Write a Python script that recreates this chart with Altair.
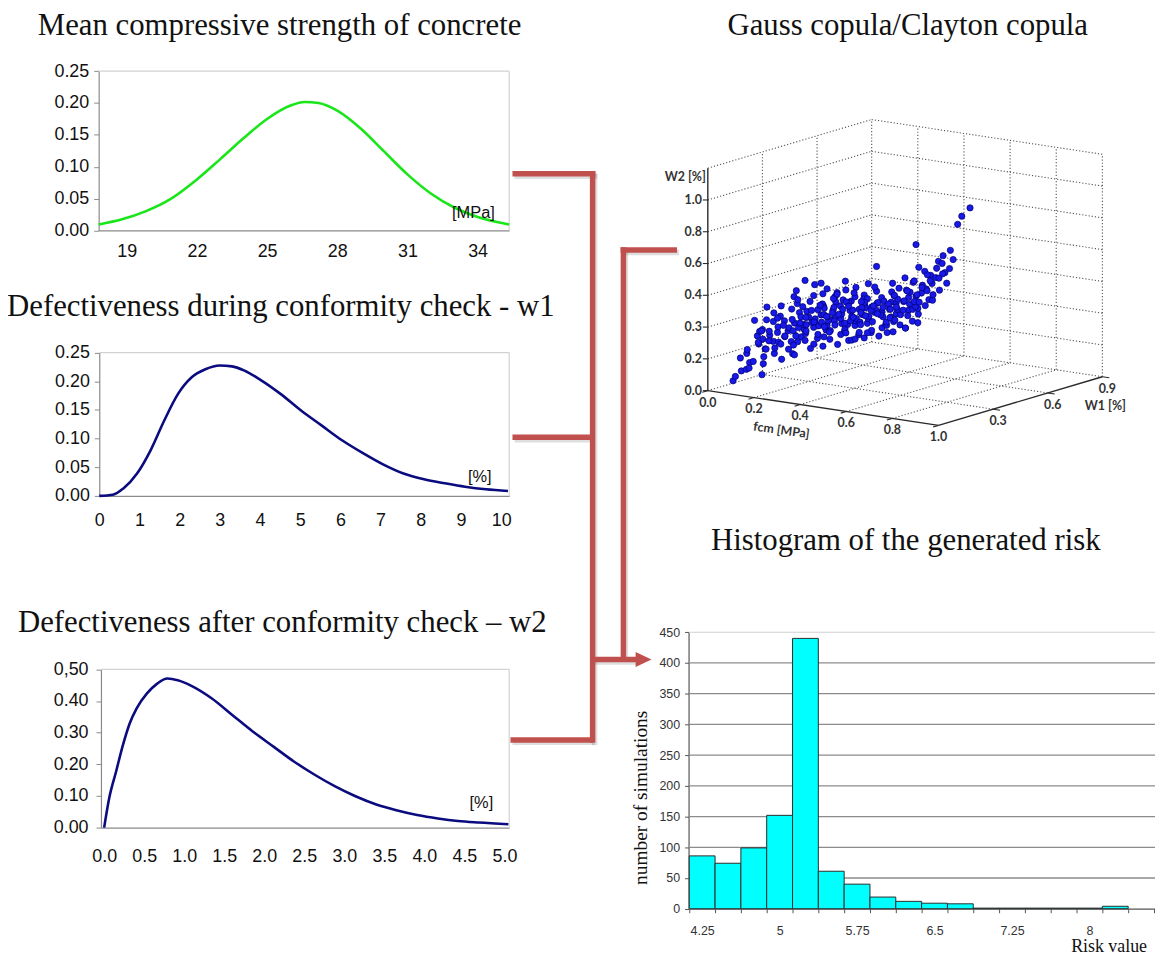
import altair as alt
import pandas as pd

# ---------------------------------------------------------------- data
TITLE_FCM = "Mean compressive strength of concrete"
TITLE_W1 = "Defectiveness during conformity check - w1"
TITLE_W2 = "Defectiveness after conformity check \u2013 w2"
TITLE_COPULA = "Gauss copula/Clayton copula"
TITLE_HIST = "Histogram of the generated risk"

FCM_X = [17.8, 18.8, 19.8, 20.9, 22.0, 23.0, 24.0, 25.0, 26.0, 26.6, 27.2, 28.0, 29.0, 30.0,
         31.0, 32.0, 33.0, 34.0, 35.35]
FCM_Y = [0.0094, 0.0175, 0.030, 0.050, 0.080, 0.112, 0.145, 0.175, 0.196, 0.2017, 0.200, 0.188,
         0.160, 0.124, 0.088, 0.058, 0.036, 0.021, 0.0094]
FCM_TICKS = [19, 22, 25, 28, 31, 34]

W1_X = [0, 0.34, 0.6, 0.94, 1.28, 1.62, 1.96, 2.3, 2.64, 3.0, 3.3, 3.6, 4.0, 4.51, 5.02, 5.53,
        6.04, 6.55, 7.06, 7.57, 8.08, 8.6, 9.1, 9.62, 10.17]
W1_Y = [0, 0.002, 0.013, 0.039, 0.080, 0.132, 0.178, 0.207, 0.221, 0.2275, 0.226, 0.219, 0.203,
        0.178, 0.149, 0.123, 0.097, 0.075, 0.055, 0.039, 0.029, 0.022, 0.016, 0.0115, 0.0087]
W1_TICKS = [0, 1, 2, 3, 4, 5, 6, 7, 8, 9, 10]

W2_X = [0.0, 0.064, 0.15, 0.235, 0.32, 0.406, 0.535, 0.663, 0.79, 0.919, 1.09, 1.346, 1.6,
        1.86, 2.115, 2.37, 2.63, 2.88, 3.14, 3.4, 3.65, 3.91, 4.17, 4.42, 4.68, 5.05]
W2_Y = [0, 0.094, 0.178, 0.2615, 0.33, 0.377, 0.424, 0.455, 0.471, 0.4655, 0.448, 0.408, 0.356,
        0.303, 0.256, 0.209, 0.167, 0.131, 0.099, 0.073, 0.055, 0.040, 0.029, 0.021, 0.016, 0.0105]
W2_XTICKS = [0, 0.5, 1, 1.5, 2, 2.5, 3, 3.5, 4, 4.5, 5]
W2_XLABELS = ["0.0", "0.5", "1.0", "1.5", "2.0", "2.5", "3.0", "3.5", "4.0", "4.5", "5.0"]
W2_YTICKS = [0, 0.1, 0.2, 0.3, 0.4, 0.5]
W2_YLABELS = ["0.00", "0.10", "0.20", "0.30", "0.40", "0,50"]

RISK_CENTERS = [4.25, 4.5, 4.75, 5.0, 5.25, 5.5, 5.75, 6.0, 6.25, 6.5, 6.75, 7.0, 7.25, 7.5,
                7.75, 8.0, 8.25]
RISK_COUNTS = [86, 74, 99, 152, 440, 61, 40, 19, 12, 9, 8, 1, 1, 1, 1, 1, 4]
RISK_LABEL_AT = [4.25, 5.0, 5.75, 6.5, 7.25, 8.0]
RISK_LABELS = ["4.25", "5", "5.75", "6.5", "7.25", "8"]

# copula sample: (fcm, W1, W2)
COPULA_POINTS = [
    (0.07, 0.05, 0.06), (0.09, 0.07, 0.12), (0.08, 0.05, 0.09), (0.11, 0.09, 0.17), (0.09, 0.10, 0.22),
    (0.12, 0.06, 0.14), (0.10, 0.09, 0.25), (0.07, 0.09, 0.19),
    (0.10, 0.10, 0.13), (0.14, 0.13, 0.20), (0.11, 0.14, 0.27), (0.12, 0.12, 0.33), (0.15, 0.11, 0.38),
    (0.13, 0.15, 0.24), (0.10, 0.13, 0.42), (0.14, 0.10, 0.30), (0.11, 0.11, 0.17), (0.13, 0.12, 0.36),
    (0.13, 0.14, 0.15), (0.17, 0.15, 0.22), (0.14, 0.18, 0.28), (0.15, 0.15, 0.33), (0.17, 0.17, 0.38),
    (0.16, 0.12, 0.44), (0.13, 0.16, 0.50), (0.18, 0.14, 0.26), (0.15, 0.17, 0.41), (0.17, 0.12, 0.31),
    (0.13, 0.13, 0.36), (0.16, 0.16, 0.47),
    (0.17, 0.19, 0.17), (0.20, 0.19, 0.24), (0.16, 0.22, 0.30), (0.19, 0.20, 0.35), (0.21, 0.21, 0.40),
    (0.18, 0.17, 0.45), (0.16, 0.20, 0.50), (0.20, 0.22, 0.56), (0.18, 0.23, 0.27), (0.21, 0.18, 0.38),
    (0.16, 0.18, 0.43), (0.20, 0.17, 0.33), (0.19, 0.22, 0.48), (0.21, 0.20, 0.21),
    (0.21, 0.21, 0.20), (0.20, 0.24, 0.27), (0.24, 0.21, 0.32), (0.22, 0.22, 0.37), (0.20, 0.21, 0.42),
    (0.24, 0.24, 0.47), (0.23, 0.20, 0.53), (0.21, 0.22, 0.60), (0.24, 0.23, 0.29), (0.22, 0.25, 0.35),
    (0.25, 0.21, 0.40), (0.20, 0.25, 0.45), (0.23, 0.23, 0.50), (0.24, 0.19, 0.56), (0.19, 0.23, 0.25),
    (0.24, 0.26, 0.23), (0.27, 0.26, 0.30), (0.23, 0.29, 0.35), (0.25, 0.27, 0.40), (0.27, 0.28, 0.44),
    (0.26, 0.24, 0.48), (0.23, 0.27, 0.52), (0.27, 0.29, 0.57), (0.25, 0.27, 0.63), (0.28, 0.25, 0.33),
    (0.23, 0.25, 0.38), (0.26, 0.26, 0.42), (0.24, 0.30, 0.46), (0.28, 0.28, 0.50), (0.23, 0.29, 0.55),
    (0.27, 0.24, 0.27),
    (0.27, 0.29, 0.24), (0.30, 0.29, 0.29), (0.26, 0.32, 0.33), (0.28, 0.30, 0.37), (0.30, 0.31, 0.41),
    (0.29, 0.27, 0.45), (0.26, 0.30, 0.50), (0.30, 0.32, 0.55), (0.28, 0.30, 0.60), (0.27, 0.28, 0.64),
    (0.31, 0.28, 0.35), (0.27, 0.32, 0.39), (0.29, 0.29, 0.43), (0.26, 0.31, 0.47), (0.31, 0.31, 0.52),
    (0.29, 0.27, 0.31), (0.30, 0.33, 0.57),
    (0.31, 0.32, 0.25), (0.30, 0.35, 0.30), (0.34, 0.32, 0.34), (0.32, 0.33, 0.38), (0.30, 0.32, 0.42),
    (0.34, 0.35, 0.46), (0.33, 0.31, 0.50), (0.30, 0.31, 0.54), (0.33, 0.34, 0.59), (0.32, 0.35, 0.64),
    (0.35, 0.31, 0.36), (0.30, 0.35, 0.40), (0.32, 0.33, 0.44), (0.34, 0.31, 0.48), (0.31, 0.35, 0.52),
    (0.35, 0.33, 0.28), (0.30, 0.33, 0.56), (0.33, 0.34, 0.32),
    (0.34, 0.36, 0.27), (0.37, 0.36, 0.31), (0.33, 0.39, 0.35), (0.35, 0.37, 0.39), (0.37, 0.38, 0.43),
    (0.36, 0.34, 0.47), (0.33, 0.37, 0.51), (0.37, 0.39, 0.55), (0.35, 0.37, 0.60), (0.38, 0.35, 0.33),
    (0.33, 0.35, 0.37), (0.36, 0.36, 0.41), (0.34, 0.40, 0.45), (0.38, 0.38, 0.49), (0.33, 0.39, 0.53),
    (0.37, 0.34, 0.29), (0.35, 0.36, 0.57),
    (0.37, 0.39, 0.28), (0.40, 0.39, 0.32), (0.36, 0.42, 0.36), (0.38, 0.40, 0.40), (0.40, 0.41, 0.44),
    (0.39, 0.37, 0.48), (0.36, 0.40, 0.52), (0.40, 0.42, 0.57), (0.38, 0.40, 0.62), (0.41, 0.38, 0.34),
    (0.36, 0.38, 0.38), (0.39, 0.39, 0.42), (0.37, 0.43, 0.46), (0.41, 0.41, 0.50), (0.36, 0.42, 0.30),
    (0.40, 0.37, 0.54),
    (0.41, 0.42, 0.29), (0.40, 0.45, 0.33), (0.44, 0.42, 0.37), (0.42, 0.43, 0.41), (0.40, 0.42, 0.45),
    (0.44, 0.45, 0.50), (0.43, 0.41, 0.54), (0.40, 0.41, 0.60), (0.43, 0.44, 0.31), (0.42, 0.45, 0.35),
    (0.45, 0.41, 0.39), (0.40, 0.45, 0.43), (0.42, 0.43, 0.47), (0.44, 0.41, 0.52), (0.45, 0.44, 0.57),
    (0.44, 0.46, 0.31), (0.47, 0.46, 0.36), (0.43, 0.49, 0.41), (0.45, 0.47, 0.45), (0.47, 0.48, 0.50),
    (0.46, 0.44, 0.55), (0.43, 0.47, 0.61), (0.47, 0.49, 0.33), (0.45, 0.45, 0.38), (0.48, 0.45, 0.43),
    (0.43, 0.49, 0.48), (0.46, 0.46, 0.52), (0.45, 0.48, 0.58),
    (0.47, 0.49, 0.33), (0.50, 0.49, 0.38), (0.46, 0.52, 0.43), (0.48, 0.50, 0.48), (0.50, 0.51, 0.53),
    (0.49, 0.47, 0.58), (0.46, 0.50, 0.64), (0.50, 0.52, 0.36), (0.48, 0.49, 0.41), (0.51, 0.48, 0.46),
    (0.46, 0.52, 0.51), (0.49, 0.49, 0.56), (0.48, 0.52, 0.61),
    (0.51, 0.51, 0.42), (0.54, 0.51, 0.48), (0.50, 0.54, 0.54), (0.52, 0.52, 0.60), (0.54, 0.54, 0.66),
    (0.52, 0.50, 0.72), (0.50, 0.52, 0.45), (0.54, 0.53, 0.51), (0.52, 0.54, 0.57), (0.50, 0.50, 0.63),
    (0.53, 0.52, 0.69),
    (0.54, 0.55, 0.50), (0.57, 0.55, 0.57), (0.53, 0.58, 0.63), (0.55, 0.56, 0.70), (0.57, 0.57, 0.78),
    (0.55, 0.54, 0.54), (0.53, 0.56, 0.60), (0.57, 0.58, 0.67), (0.55, 0.57, 0.74),
    (0.57, 0.59, 0.60), (0.59, 0.58, 0.70), (0.57, 0.61, 0.80), (0.59, 0.60, 0.75), (0.56, 0.58, 0.66),
    (0.60, 0.68, 1.05), (0.58, 0.66, 1.00), (0.57, 0.65, 0.95), (0.50, 0.51, 0.855), (0.40, 0.42, 0.726),
    (0.24, 0.23, 0.668), (0.14, 0.12, 0.09),
    (0.15, 0.13, 0.25), (0.16, 0.18, 0.34), (0.18, 0.16, 0.29), (0.19, 0.18, 0.42), (0.20, 0.23, 0.31),
    (0.22, 0.19, 0.36), (0.21, 0.24, 0.39), (0.23, 0.22, 0.44), (0.25, 0.22, 0.34), (0.24, 0.25, 0.43),
    (0.26, 0.28, 0.37), (0.27, 0.23, 0.41), (0.25, 0.30, 0.49), (0.28, 0.27, 0.40), (0.29, 0.32, 0.46),
    (0.30, 0.26, 0.38), (0.29, 0.30, 0.33), (0.31, 0.30, 0.49), (0.32, 0.29, 0.41), (0.31, 0.36, 0.37),
    (0.33, 0.30, 0.45), (0.34, 0.36, 0.42), (0.32, 0.37, 0.50), (0.35, 0.34, 0.40), (0.36, 0.39, 0.47),
    (0.34, 0.33, 0.52), (0.37, 0.37, 0.37), (0.38, 0.36, 0.45), (0.36, 0.41, 0.41), (0.39, 0.41, 0.38),
    (0.38, 0.38, 0.51), (0.40, 0.39, 0.46), (0.41, 0.43, 0.42), (0.39, 0.44, 0.49), (0.42, 0.40, 0.44),
    (0.43, 0.46, 0.40), (0.41, 0.39, 0.49), (0.44, 0.44, 0.46), (0.45, 0.43, 0.41), (0.43, 0.48, 0.53),
    (0.46, 0.49, 0.44), (0.47, 0.44, 0.48), (0.44, 0.47, 0.38), (0.48, 0.47, 0.51), (0.49, 0.52, 0.46),
    (0.47, 0.50, 0.56), (0.50, 0.50, 0.50), (0.51, 0.53, 0.58), (0.49, 0.54, 0.48), (0.52, 0.49, 0.55),
    (0.53, 0.55, 0.62), (0.54, 0.52, 0.57), (0.51, 0.56, 0.65), (0.56, 0.56, 0.64), (0.55, 0.59, 0.72),
    (0.12, 0.15, 0.30), (0.14, 0.16, 0.35), (0.17, 0.20, 0.38), (0.19, 0.16, 0.28), (0.22, 0.26, 0.42),
    (0.26, 0.21, 0.36), (0.28, 0.33, 0.44), (0.33, 0.28, 0.39), (0.37, 0.33, 0.43), (0.42, 0.46, 0.48),
    (0.46, 0.42, 0.47), (0.31, 0.38, 0.47), (0.35, 0.40, 0.50), (0.27, 0.31, 0.42), (0.24, 0.28, 0.39),
]
CUBE_FCM_TICKS = [0.0, 0.2, 0.4, 0.6, 0.8, 1.0]
CUBE_W1_TICKS = [0.3, 0.6, 0.9]
CUBE_W2_LEVELS = [0.0, 0.2, 0.4, 0.6, 0.8, 1.0, 1.2]
CUBE_W2_LABELS = ["0.0", "0.2", "0.3", "0.4", "0.6", "0.8", "1.0"]

# ---------------------------------------------------------------- layout (image pixels)
W, H = 1155, 948
SERIF = "Liberation Serif"
SANS = "Liberation Sans"
CAL = "Lato"
RED = "#C0504D"
TFS = 31


def cx(v):
    return v - 8


def bottom_off(img_y):
    return cx(img_y) - H


def left_off(img_x):
    return -cx(img_x)


def lin(domain, r0, r1):
    return alt.Scale(domain=domain, range=[cx(r0), cx(r1)], nice=False, zero=False)


PXX = alt.Scale(domain=[0, 1163], range=[-8, 1155], nice=False, zero=False)
PXY = alt.Scale(domain=[0, 964], range=[-8, 956], nice=False, zero=False)


def label_expr(values, labels):
    s = ""
    for v, l in zip(values, labels):
        s += f"abs(datum.value - ({v})) < 1e-6 ? '{l}' : "
    return s + "''"


def axis_common(**kw):
    base = dict(title=None, grid=False, labelFont=SANS, labelColor="#111111",
                labelFlush=False, labelOverlap=False, domainColor="#8a8a8a",
                tickColor="#8a8a8a", domainWidth=1.2)
    base.update(kw)
    return alt.Axis(**base)


layers = []


def line_panel(xv, yv, color, sxd, sxr, syd, syr, xaxis, yaxis):
    sx = lin(sxd, *sxr)
    sy = lin(syd, *syr)
    df = pd.DataFrame({"x": xv, "y": yv})
    box = pd.DataFrame({"x0": [sxd[0], sxd[1]], "x1": [sxd[1], sxd[1]],
                        "y0": [syd[1], syd[0]], "y1": [syd[1], syd[1]]})
    layers.append(alt.Chart(box).mark_rule(color="#d2d2d2", strokeWidth=1.2).encode(
        x=alt.X("x0:Q", scale=sx, axis=None), x2="x1:Q",
        y=alt.Y("y0:Q", scale=sy, axis=None), y2="y1:Q"))
    layers.append(alt.Chart(df).mark_line(color=color, strokeWidth=2.6, interpolate="monotone").encode(
        x=alt.X("x:Q", scale=sx, axis=xaxis),
        y=alt.Y("y:Q", scale=sy, axis=yaxis)))


LFS = 18
# panel 1
line_panel(FCM_X, FCM_Y, "#19e619", [17.8, 35.35], (99.3, 512.7), [0, 0.25], (228.7, 68.3),
           axis_common(orient="bottom", offset=bottom_off(228.7), values=FCM_TICKS, ticks=False,
                       tickSize=0, labelFontSize=LFS, labelPadding=12),
           axis_common(orient="left", offset=left_off(99.3), values=[0, 0.05, 0.1, 0.15, 0.2, 0.25],
                       format=".2f", tickSize=5, labelFontSize=LFS, labelPadding=5))
# panel 2
line_panel(W1_X, W1_Y, "#0b0b80", [0, 10.2], (99.9, 512.7), [0, 0.25], (496, 351.7),
           axis_common(orient="bottom", offset=bottom_off(496), values=W1_TICKS, ticks=False,
                       tickSize=0, labelFontSize=LFS, labelPadding=16),
           axis_common(orient="left", offset=left_off(99.9), values=[0, 0.05, 0.1, 0.15, 0.2, 0.25],
                       format=".2f", tickSize=5, labelFontSize=LFS, labelPadding=5))
# panel 3
line_panel(W2_X, W2_Y, "#0b0b80", [-0.04, 5.06], (101.6, 512.7), [0, 0.5], (830, 670.7),
           axis_common(orient="bottom", offset=bottom_off(830), values=W2_XTICKS, ticks=False,
                       tickSize=0, labelFontSize=LFS, labelPadding=20,
                       labelExpr=label_expr(W2_XTICKS, W2_XLABELS)),
           axis_common(orient="left", offset=left_off(101.6), values=W2_YTICKS,
                       labelExpr=label_expr(W2_YTICKS, W2_YLABELS),
                       tickSize=5, labelFontSize=LFS, labelPadding=8))

# unit labels inside panels
units = pd.DataFrame({"t": ["[MPa]", "[%]", "[%]"], "x": [476.7, 483.0, 484.7], "y": [210.7, 477.0, 805.0]})
layers.append(alt.Chart(units).mark_text(font=SANS, fontSize=16.5, color="#111111", align="center",
                                         baseline="middle").encode(
    x=alt.X("x:Q", scale=PXX, axis=None), y=alt.Y("y:Q", scale=PXY, axis=None), text="t:N"))

# ---------------------------------------------------------------- histogram
hx = lin([4.125, 8.635], 694, 1163)
hy = lin([0, 450], 911.7, 633.3)
hist = pd.DataFrame({"c": RISK_CENTERS, "n": RISK_COUNTS})
hist["lo"] = hist["c"] - 0.125
hist["hi"] = hist["c"] + 0.125
grid = pd.DataFrame({"y": [50, 100, 150, 200, 250, 300, 350, 400], "x0": 4.125, "x1": 8.635})
layers.append(alt.Chart(grid).mark_rule(color="#8c8c8c", strokeWidth=1.3).encode(
    x=alt.X("x0:Q", scale=hx, axis=None), x2="x1:Q", y=alt.Y("y:Q", scale=hy, axis=None)))
layers.append(alt.Chart(pd.DataFrame({"y": [450], "x0": [4.125], "x1": [8.635]})).mark_rule(
    color="#d0d0d0", strokeWidth=1.2).encode(
    x=alt.X("x0:Q", scale=hx, axis=None), x2="x1:Q", y=alt.Y("y:Q", scale=hy, axis=None)))
edges = [4.125 + 0.25 * k for k in range(19)]
layers.append(alt.Chart(hist).mark_rect(color="#00ffff", stroke="#2b2b2b", strokeWidth=1).encode(
    x=alt.X("lo:Q", scale=hx,
            axis=axis_common(orient="bottom", offset=bottom_off(911.7), values=edges, tickSize=4,
                             labelFontSize=12.5, labelColor="#333333", labelPadding=12,
                             labelOffset=13, domainColor="#555555", tickColor="#555555",
                             labelExpr=label_expr([v - 0.125 for v in RISK_LABEL_AT], RISK_LABELS))),
    x2="hi:Q",
    y=alt.Y("n:Q", scale=hy,
            axis=axis_common(orient="left", offset=left_off(693.3),
                             values=[0, 50, 100, 150, 200, 250, 300, 350, 400, 450], tickSize=4,
                             labelFontSize=12.5, labelColor="#333333", labelPadding=5,
                             domainColor="#555555", tickColor="#555555")),
    y2=alt.datum(0)))

# ---------------------------------------------------------------- 3-D copula scatter
ORIGIN = (712.7, 390.0)
V_F = (232.3, 35.0)
V_A = (165.0 / 0.9, -49.0 / 0.9)
V_B = (0.0, -160.0)
TOP = 1.4


def proj(f, a, b):
    return (ORIGIN[0] + V_F[0] * f + V_A[0] * a + V_B[0] * b,
            ORIGIN[1] + V_F[1] * f + V_A[1] * a + V_B[1] * b)


def seg(p, q):
    (x, y), (x2, y2) = proj(*p), proj(*q)
    return {"x": x, "y": y, "x2": x2, "y2": y2}


dotted = []
levels = [0.2 * k for k in range(8)]
for z in levels:
    dotted.append(seg((0, 0, z), (0, 0.9, z)))
    dotted.append(seg((0, 0.9, z), (1, 0.9, z)))
for a in [0.3, 0.6, 0.9]:
    dotted.append(seg((0, a, 0), (0, a, TOP)))
for f in [0.2, 0.4, 0.6, 0.8, 1.0]:
    dotted.append(seg((f, 0.9, 0), (f, 0.9, TOP)))
for a in [0.3, 0.6]:
    dotted.append(seg((0, a, 0), (1, a, 0)))
for f in [0.2, 0.4, 0.6, 0.8]:
    dotted.append(seg((f, 0, 0), (f, 0.9, 0)))
solid = [seg((0, 0, 0), (0, 0, TOP)), seg((0, 0, 0), (1, 0, 0)), seg((1, 0, 0), (1, 0.9, 0))]
ticks = []
for z in CUBE_W2_LEVELS:
    x, y = proj(0, 0, z)
    ticks.append({"x": x - 5, "y": y, "x2": x, "y2": y})
for f in CUBE_FCM_TICKS:
    ticks.append(seg((f, 0, 0), (f, -0.03, 0)))
for a in CUBE_W1_TICKS:
    ticks.append(seg((1, a, 0), (1.03, a, 0)))


def rule_layer(rows, **kw):
    return alt.Chart(pd.DataFrame(rows)).mark_rule(**kw).encode(
        x=alt.X("x:Q", scale=PXX, axis=None), x2="x2:Q",
        y=alt.Y("y:Q", scale=PXY, axis=None), y2="y2:Q")


layers.append(rule_layer(dotted, color="#555555", strokeWidth=1.1, strokeDash=[1.2, 2.0]))
layers.append(rule_layer(solid, color="#2a2a2a", strokeWidth=1.4))
layers.append(rule_layer(ticks, color="#2a2a2a", strokeWidth=1.1))

pts = pd.DataFrame([dict(zip(["x", "y"], proj(*p))) for p in COPULA_POINTS])
layers.append(alt.Chart(pts).mark_circle(size=40, color="#1818e8", opacity=1, stroke="#00006b",
                                         strokeWidth=0.7).encode(
    x=alt.X("x:Q", scale=PXX, axis=None), y=alt.Y("y:Q", scale=PXY, axis=None)))

w2lab = []
for z, l in zip(CUBE_W2_LEVELS, CUBE_W2_LABELS):
    x, y = proj(0, 0, z)
    w2lab.append({"x": x - 6, "y": y, "t": l})
other = []
for f in CUBE_FCM_TICKS:
    x, y = proj(f, 0, 0)
    other.append({"x": x, "y": y + 12, "t": f"{f:.1f}"})
for a in CUBE_W1_TICKS:
    x, y = proj(1, a, 0)
    other.append({"x": x + 5, "y": y + 12, "t": f"{a:.1f}"})
other.append({"x": 1113.0, "y": 405.0, "t": "W1 [%]"})
other.append({"x": 690.0, "y": 175.0, "t": "W2 [%]"})
SFS = 12.5
layers.append(alt.Chart(pd.DataFrame(w2lab)).mark_text(font=CAL, fontSize=SFS, fontWeight="bold",
                                                       color="#333333", align="right",
                                                       baseline="middle").encode(
    x=alt.X("x:Q", scale=PXX, axis=None), y=alt.Y("y:Q", scale=PXY, axis=None), text="t:N"))
layers.append(alt.Chart(pd.DataFrame(other)).mark_text(font=CAL, fontSize=SFS, fontWeight="bold",
                                                       color="#333333", align="center",
                                                       baseline="middle").encode(
    x=alt.X("x:Q", scale=PXX, axis=None), y=alt.Y("y:Q", scale=PXY, axis=None), text="t:N"))
layers.append(alt.Chart(pd.DataFrame([{"x": 786.7, "y": 430.0, "t": "fcm [MPa]"}])).mark_text(
    font=CAL, fontSize=SFS, fontWeight="bold", color="#333333", align="center", baseline="middle",
    angle=8).encode(
    x=alt.X("x:Q", scale=PXX, axis=None), y=alt.Y("y:Q", scale=PXY, axis=None), text="t:N"))

# ---------------------------------------------------------------- titles
centered = pd.DataFrame({"t": [TITLE_FCM, TITLE_COPULA, TITLE_HIST],
                         "x": [281.5, 914.0, 912.0], "y": [31.5, 31.5, 550.0]})
lefty = pd.DataFrame({"t": [TITLE_W1, TITLE_W2], "x": [7.0, 18.0], "y": [315.0, 633.0]})
for df, al in [(centered, "center"), (lefty, "left")]:
    layers.append(alt.Chart(df).mark_text(font=SERIF, fontSize=TFS, color="#111111", align=al,
                                          baseline="alphabetic").encode(
        x=alt.X("x:Q", scale=PXX, axis=None), y=alt.Y("y:Q", scale=PXY, axis=None), text="t:N"))
layers.append(alt.Chart(pd.DataFrame([{"t": "Risk value", "x": 1155.0, "y": 955.0}])).mark_text(
    font=SERIF, fontSize=18, color="#111111", align="right", baseline="alphabetic").encode(
    x=alt.X("x:Q", scale=PXX, axis=None), y=alt.Y("y:Q", scale=PXY, axis=None), text="t:N"))
layers.append(alt.Chart(pd.DataFrame([{"t": "number of simulations", "x": 645.0, "y": 800.0}])).mark_text(
    font=SERIF, fontSize=19.5, color="#111111", align="center", baseline="middle", angle=270).encode(
    x=alt.X("x:Q", scale=PXX, axis=None), y=alt.Y("y:Q", scale=PXY, axis=None), text="t:N"))

# ---------------------------------------------------------------- connectors
conn = [
    {"x": 516.0, "y": 171.7, "x2": 599.5, "y2": 171.7},
    {"x": 596.7, "y": 169.0, "x2": 596.7, "y2": 744.5},
    {"x": 516.0, "y": 437.0, "x2": 596.7, "y2": 437.0},
    {"x": 514.0, "y": 741.7, "x2": 596.7, "y2": 741.7},
    {"x": 596.7, "y": 660.7, "x2": 642.0, "y2": 660.7},
    {"x": 624.9, "y": 248.3, "x2": 681.7, "y2": 248.3},
    {"x": 627.7, "y": 245.5, "x2": 627.7, "y2": 660.7},
]
shadow = [{k: v + (2.0 if k.startswith("x") else 2.5) for k, v in r.items()} for r in conn]
layers.append(rule_layer(shadow, color="#000000", strokeWidth=5.5, opacity=0.13))
layers.append(rule_layer(conn, color=RED, strokeWidth=5.5))
layers.append(alt.Chart(pd.DataFrame([{"x": 648.0, "y": 660.7}])).mark_point(
    shape="M -1 -0.95 L 1 0 L -1 0.95 Z", size=256, filled=True, color=RED, opacity=1).encode(
    x=alt.X("x:Q", scale=PXX, axis=None), y=alt.Y("y:Q", scale=PXY, axis=None)))

chart = alt.layer(*layers).resolve_scale(x="independent", y="independent").properties(
    width=W, height=H, padding=0, autosize=alt.AutoSizeParams(type="none"),
    background="white").configure_view(stroke=None)

chart.save("out.html", embed_options={"renderer": "svg", "actions": False})
